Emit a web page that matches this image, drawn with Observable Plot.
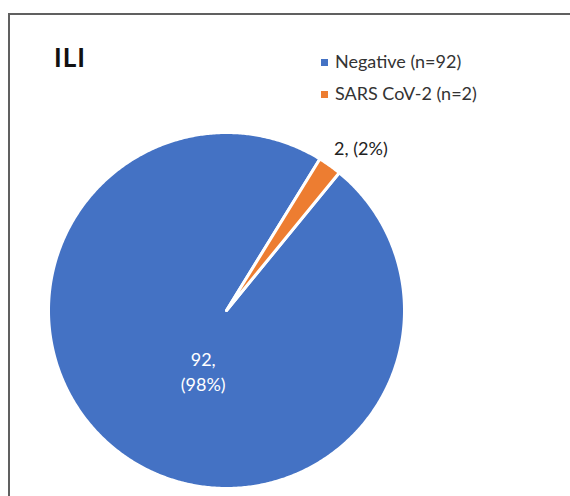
<!DOCTYPE html>
<html>
<head>
<meta charset="utf-8">
<script src="https://cdn.jsdelivr.net/npm/d3@7"></script>
<script src="https://cdn.jsdelivr.net/npm/@observablehq/plot@0.6"></script>
<style>
  body { margin: 0; background: #fff; }
  #wrap { position: relative; width: 570px; height: 496px; overflow: hidden; font-family: Lato, "Open Sans", sans-serif; }
  #frame { position: absolute; left: 8px; top: 13px; width: 700px; height: 700px; border: 2px solid #606060; box-sizing: border-box; }
  #title { position: absolute; left: 54px; top: 44px; font-size: 26px; line-height: 26px; font-weight: 700; color: #111; letter-spacing: 1px; }
  #legend { position: absolute; left: 321px; top: 45px; font-size: 18px; line-height: 32px; color: #333; }
  .row { position: relative; height: 32px; white-space: nowrap; }
  .sw { position: absolute; left: 0; top: 14px; width: 7px; height: 7px; }
  .lt { position: absolute; left: 14px; top: 0; }
  #chart { position: absolute; left: 0; top: 0; }
</style>
</head>
<body>
<div id="wrap">
  <div id="frame"></div>
  <div id="title"></div>
  <div id="legend"></div>
  <div id="chart"></div>
</div>
<script>
const title = "ILI";
const categories = ["Negative", "SARS CoV-2"];
const counts = [92, 2];
const colors = ["#4472C4", "#ED7D31"];
const firstSliceAngle = 39.3; // degrees, clockwise from 12 o'clock

const total = d3.sum(counts);
const pct = counts.map(c => Math.round(c / total * 100));
const legendLabels = categories.map((c, i) => `${c} (n=${counts[i]})`);
const sliceLabels = [`${counts[0]},\n(${pct[0]}%)`, `${counts[1]}, (${pct[1]}%)`];

// title and legend
document.getElementById("title").textContent = title;
const legend = document.getElementById("legend");
categories.forEach((c, i) => {
  const row = document.createElement("div");
  row.className = "row";
  const sw = document.createElement("div");
  sw.className = "sw";
  sw.style.background = colors[i];
  const lt = document.createElement("div");
  lt.className = "lt";
  lt.textContent = legendLabels[i];
  row.appendChild(sw); row.appendChild(lt);
  legend.appendChild(row);
});

// pie geometry from the data
const a0 = firstSliceAngle * Math.PI / 180;
const arcs = d3.pie().sort(null).startAngle(a0).endAngle(a0 + 2 * Math.PI)(counts);
function slicePoints(arc) {
  const pts = [{x: 0, y: 0}];
  const n = Math.max(2, Math.ceil((arc.endAngle - arc.startAngle) / (Math.PI / 360)));
  for (let k = 0; k <= n; k++) {
    const a = arc.startAngle + (arc.endAngle - arc.startAngle) * k / n;
    pts.push({x: Math.sin(a), y: Math.cos(a)});
  }
  pts.push({x: 0, y: 0});
  return pts;
}
function labelPoint(arc, r) {
  const a = (arc.startAngle + arc.endAngle) / 2;
  return [{x: r * Math.sin(a), y: r * Math.cos(a), text: ""}];
}

const sliceMarks = arcs.map((arc, i) =>
  Plot.line(slicePoints(arc), {
    x: "x", y: "y", fill: colors[i], stroke: "white", strokeWidth: 3, strokeLinejoin: "round"
  })
);

const lab0 = labelPoint(arcs[0], 0.4); lab0[0].text = sliceLabels[0];
const lab1 = labelPoint(arcs[1], 1.1); lab1[0].text = sliceLabels[1];

const chart = Plot.plot({
  width: 570,
  height: 496,
  margin: 0,
  style: { background: "transparent", overflow: "visible", fontFamily: "Lato, 'Open Sans', sans-serif" },
  x: { domain: [-1, 1], range: [48, 404], axis: null },
  y: { domain: [-1, 1], range: [488, 132], axis: null },
  marks: [
    ...sliceMarks,
    Plot.text(lab0, { x: "x", y: "y", text: "text", fill: "white", fontSize: 18, lineHeight: 1.39, textAnchor: "middle", dx: 18, dy: 2 }),
    Plot.text(lab1, { x: "x", y: "y", text: "text", fill: "#222", fontSize: 18, textAnchor: "start", dx: -6, dy: -2 })
  ]
});
document.getElementById("chart").appendChild(chart);
</script>
</body>
</html>
